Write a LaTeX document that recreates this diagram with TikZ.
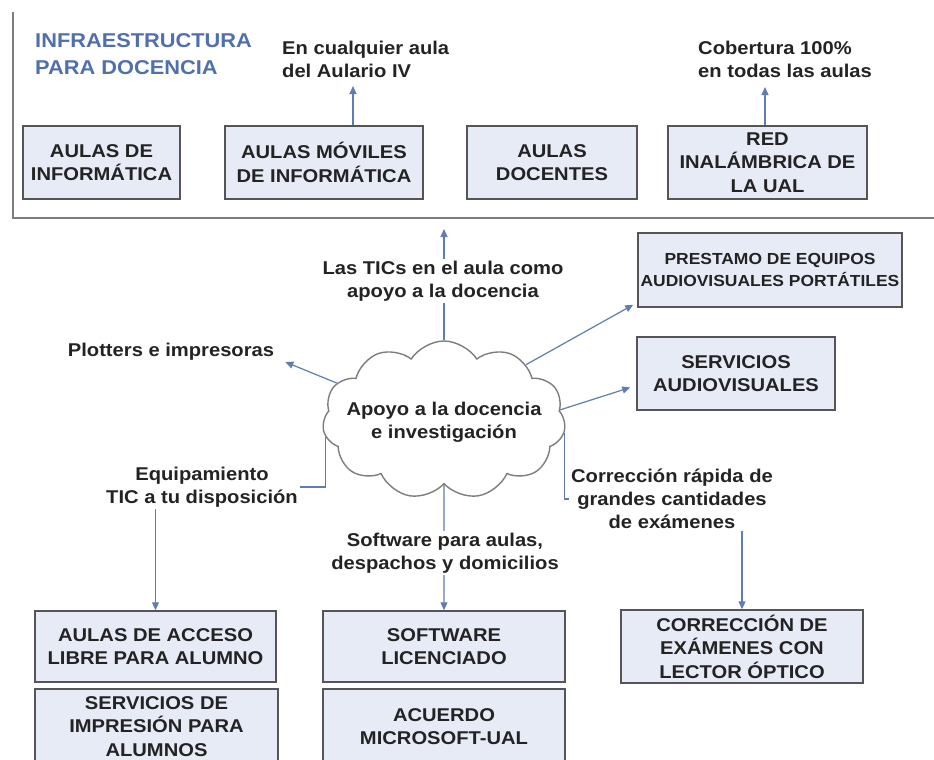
\documentclass[tikz,border=0pt]{standalone}
\usepackage{fontspec}
\setmainfont{Liberation Sans}[FakeStretch=1.09]
\usetikzlibrary{shapes.symbols,arrows.meta,calc,backgrounds}
\definecolor{boxfill}{RGB}{231,235,246}
\definecolor{boxdraw}{RGB}{85,85,85}
\definecolor{conn}{RGB}{95,125,175}
\definecolor{txt}{RGB}{35,35,35}
\definecolor{ttl}{RGB}{80,112,172}
\definecolor{framec}{RGB}{125,125,125}
\begin{document}
\begin{tikzpicture}[x=1pt,y=-1pt,
  bx/.style={draw=boxdraw,line width=1.5pt,fill=boxfill,align=center,inner sep=0pt,text=txt,
    font=\fontsize{18.5}{23.5}\selectfont\bfseries},
  lbl/.style={align=center,inner sep=2pt,text=txt,font=\fontsize{18.5}{23}\selectfont\bfseries},
  conn/.style={draw=conn,line width=1.2pt,-{Triangle[length=8pt,width=7pt]}}]
\useasboundingbox (0,0) rectangle (934,760);
\clip (0,0) rectangle (934,760);

% top frame
\draw[framec,line width=1.8pt] (13,12) -- (13,218) -- (936,218);
\node[anchor=west,align=left,text=ttl,inner sep=0pt,font=\fontsize{20}{27}\selectfont\bfseries] (title) at (35,54) {INFRAESTRUCTURA\\PARA DOCENCIA};

% top boxes
\node[bx,minimum width=157,minimum height=73] (b1) at (101.5,162.5) {AULAS DE\\INFORMÁTICA};
\node[bx,minimum width=198,minimum height=73] (b2) at (324,162.5) {AULAS MÓVILES\\DE INFORMÁTICA};
\node[bx,minimum width=170,minimum height=73] (b3) at (552,162.5) {AULAS\\DOCENTES};
\node[bx,minimum width=199,minimum height=73] (b4) at (767.5,162.5) {RED\\INALÁMBRICA DE\\LA UAL};

\node[lbl,anchor=west,align=left] (lA) at (280,59) {En cualquier aula\\del Aulario IV};
\node[lbl,anchor=west,align=left] (lB) at (696,59) {Cobertura 100\%\\en todas las aulas};
\coordinate (aA) at (353,86);
\coordinate (aB) at (765,87);
\draw[conn] (b2.north -| aA) -- (aA);
\draw[conn] (b4.north -| aB) -- (aB);

% right boxes
\node[bx,minimum width=264,minimum height=74,font=\fontsize{16}{22}\selectfont\bfseries] (bP) at (770,270) {PRESTAMO DE EQUIPOS\\AUDIOVISUALES PORTÁTILES};
\node[bx,minimum width=198,minimum height=73] (bS) at (736,373.5) {SERVICIOS\\AUDIOVISUALES};

% bottom boxes
\node[bx,minimum width=241,minimum height=71] (b5) at (155.5,646.5) {AULAS DE ACCESO\\LIBRE PARA ALUMNO};
\node[bx,minimum width=243,minimum height=75] (b6) at (156.5,726.5) {SERVICIOS DE\\IMPRESIÓN PARA\\ALUMNOS};
\node[bx,minimum width=242,minimum height=71] (bSw) at (444,646.5) {SOFTWARE\\LICENCIADO};
\node[bx,minimum width=242,minimum height=75] (bM) at (444,726.5) {ACUERDO\\MICROSOFT-UAL};
\node[bx,minimum width=242,minimum height=73] (bC) at (742,646.5) {CORRECCIÓN DE\\EXÁMENES CON\\LECTOR ÓPTICO};

% cloud
\node[cloud,draw=framec,line width=1.4pt,fill=white,cloud puffs=11,cloud puff arc=115,cloud ignores aspect,
      minimum width=243,minimum height=158,inner sep=0pt] (cl) at (444,420) {};
\node[lbl] (clt) at ([yshift=-2pt]cl.center) {Apoyo a la docencia\\e investigación};

% labels on connectors
\node[lbl,fill=white] (lP) at (171,352) {Plotters e impresoras};
\node[lbl,fill=white] (lT) at (443,281) {Las TICs en el aula como\\apoyo a la docencia};
\node[lbl,fill=white] (lE) at (202,487) {Equipamiento\\TIC a tu disposición};
\node[lbl,fill=white] (lS) at (445,553) {Software para aulas,\\despachos y domicilios};
\node[lbl,fill=white] (lC) at (672,499) {Corrección rápida de\\grandes cantidades\\de exámenes};
\coordinate (fr) at (444,229);

\begin{scope}[on background layer]
\fill[white] (0,0) rectangle (934,760);
\draw[conn] (cl.north) -- (fr);
\draw[conn] (cl.161) -- ($(lP.east)+(9,10)$);
\draw[conn] (cl.188) |- (b5.north |- lE.center) -- (b5.north);
\draw[conn] (cl.south) -- (bSw.north);
\draw[conn] (cl.354) |- (bC.north |- lC.center) -- (bC.north);
\draw[conn] (cl.34) -- ($(bP.south west)+(-4,-3)$);
\draw[conn] (cl.5) -- ($(bS.west)+(-6,14)$);
\end{scope}
\end{tikzpicture}
\end{document}
